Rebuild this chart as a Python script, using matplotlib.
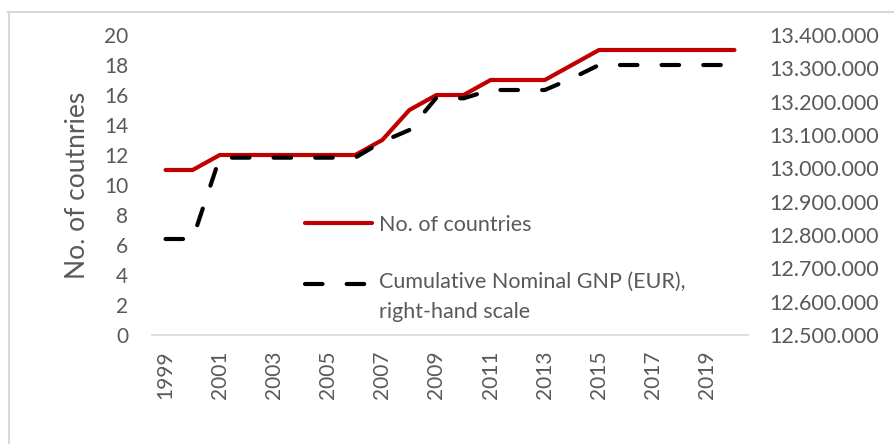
import matplotlib
matplotlib.use("Agg")
import matplotlib.pyplot as plt
from matplotlib.ticker import FuncFormatter, MultipleLocator
from matplotlib.lines import Line2D
from matplotlib.legend_handler import HandlerLine2D

years = list(range(1999, 2021))
countries = [11, 11, 12, 12, 12, 12, 12, 12, 13, 15, 16, 16, 17, 17, 17, 18, 19, 19, 19, 19, 19, 19]
gnp = [12788000, 12788000, 13032000, 13032000, 13032000, 13032000, 13032000, 13032000,
       13080000, 13115000, 13212000, 13210000, 13235000, 13235000, 13235000, 13270000,
       13310000, 13310000, 13310000, 13310000, 13310000, 13310000]
xtick_years = list(range(1999, 2020, 2))

plt.rcParams['font.family'] = ['Lato', 'DejaVu Sans']
TXT = '#595959'
FS = 15


class ShiftedHandler(HandlerLine2D):
    def __init__(self, shift, **kw):
        super().__init__(**kw)
        self.shift = shift

    def create_artists(self, legend, orig_handle, xdescent, ydescent, width, height, fontsize, trans):
        return super().create_artists(legend, orig_handle, xdescent, ydescent - self.shift,
                                      width, height, fontsize, trans)


fig = plt.figure(figsize=(8.95, 4.44), dpi=100)
W, H = 895, 444
ax = fig.add_axes([152 / W, (H - 335) / H, (748 - 152) / W, (335 - 35) / H])
ax2 = ax.twinx()

l1, = ax.plot(years, countries, color='#c00000', lw=3, solid_capstyle='round',
              label='No. of countries', zorder=3)
l2, = ax2.plot(years, gnp, color='black', lw=3, dashes=(4.2, 5.8), dash_capstyle='round',
               label='Cumulative Nominal GNP (EUR),\nright-hand scale', zorder=2)

ax.set_xlim(1998.5, 2020.5)
ax.set_ylim(0, 20)
ax.yaxis.set_major_locator(MultipleLocator(2))
ax2.set_ylim(12500000, 13400000)
ax2.yaxis.set_major_locator(MultipleLocator(100000))
ax2.yaxis.set_major_formatter(FuncFormatter(lambda v, p: f"{int(round(v)):,}".replace(',', '.')))

ax.set_xticks(xtick_years)
ax.set_xticklabels([str(y) for y in xtick_years], rotation=90)

for a in (ax, ax2):
    for s in a.spines.values():
        s.set_visible(False)
    a.tick_params(length=0, labelsize=FS, labelcolor=TXT)
    a.patch.set_visible(False)
ax2.tick_params(labelsize=15.5)
ax.spines['bottom'].set_visible(True)
ax.spines['bottom'].set_color('#d9d9d9')
ax.spines['bottom'].set_linewidth(1.2)
ax.tick_params(axis='y', pad=17)
ax.tick_params(axis='x', pad=11)
ax2.tick_params(axis='y', pad=15)

ax.set_ylabel('No. of coutnries', fontsize=19, color=TXT, labelpad=10)

leg = ax.legend(handles=[l1, l2], loc='upper left', bbox_to_anchor=(305 / W, (H - 215) / H),
                bbox_transform=fig.transFigure, frameon=False, fontsize=15.5,
                handlelength=3.1, handletextpad=0.35, labelspacing=1.7, borderpad=0, borderaxespad=0,
                handler_map={l2: ShiftedHandler(18.5)})
for t in leg.get_texts():
    t.set_color(TXT)
    t.set_linespacing(1.65)

# outer chart border
fig.add_artist(Line2D([8 / W, 1], [(H - 12) / H, (H - 12) / H], color='#d9d9d9', lw=1.5,
                      transform=fig.transFigure))
fig.add_artist(Line2D([8.5 / W, 8.5 / W], [0, (H - 12) / H], color='#d9d9d9', lw=1.5,
                      transform=fig.transFigure))

fig.savefig('out.png', dpi=100)
